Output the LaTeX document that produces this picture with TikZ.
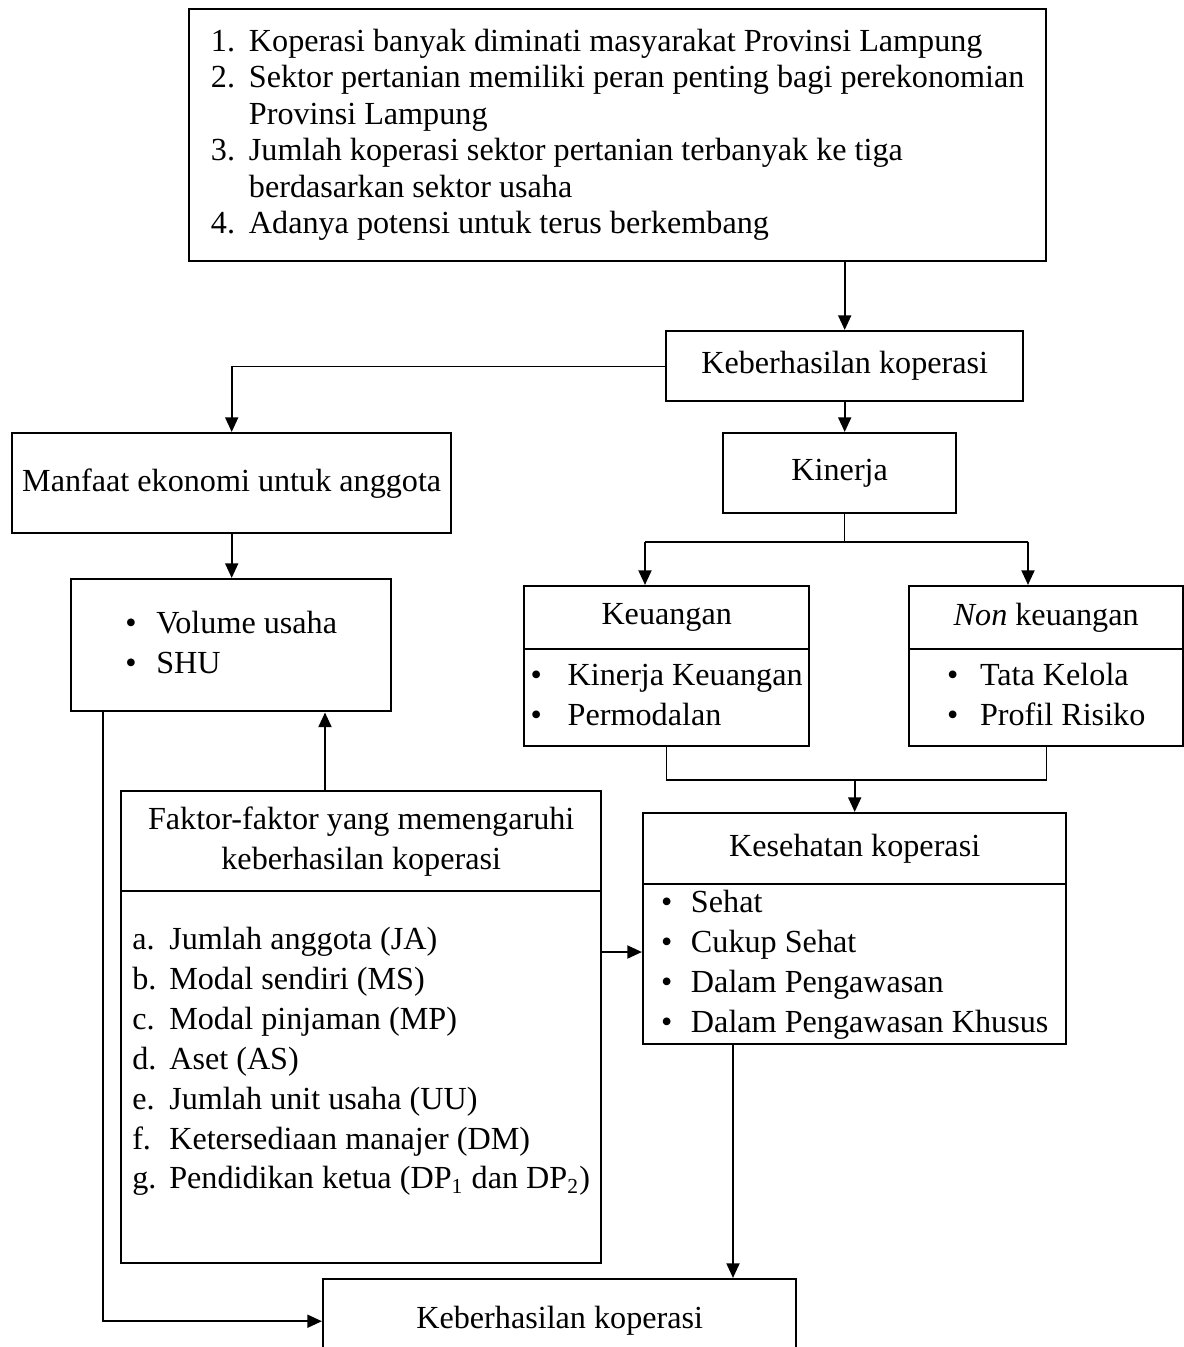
\documentclass[tikz,border=0pt]{standalone}
\usepackage{fontspec}
\setmainfont{Liberation Serif}
\usetikzlibrary{arrows.meta}
\newlength\unitpx
\setlength\unitpx{0.373pt}
\tikzset{
  box/.style={draw, line width=0.9pt, inner sep=0pt, anchor=north west,
    font=\fontsize{12}{14.9}\selectfont},
  arr/.style={line width=0.9pt, -{Triangle[length=5.5pt,width=4.8pt]}},
  thinline/.style={line width=0.45pt},
}
\begin{document}
\begin{tikzpicture}[x=\unitpx, y=-\unitpx]
\useasboundingbox (0,0) rectangle (1184,1347);
% boxes
\node[box, minimum width=857*\unitpx, minimum height=252*\unitpx, font=\fontsize{12}{13.6}\selectfont] (motiv) at (188,8){%
\begin{tabular}{@{}p{38\unitpx}@{}l@{}}
1. & Koperasi banyak diminati masyarakat Provinsi Lampung\\
2. & Sektor pertanian memiliki peran penting bagi perekonomian\\
   & Provinsi Lampung\\
3. & Jumlah koperasi sektor pertanian terbanyak ke tiga\\
   & berdasarkan sektor usaha\\
4. & Adanya potensi untuk terus berkembang
\end{tabular}};
\node[box, minimum width=357*\unitpx, minimum height=70*\unitpx] (kh) at (665,330){Keberhasilan koperasi};
\node[box, minimum width=439*\unitpx, minimum height=100*\unitpx] (manf) at (11,432){Manfaat ekonomi untuk anggota};
\node[box, minimum width=233*\unitpx, minimum height=80*\unitpx] (kin) at (722,432){Kinerja};
\node[box, minimum width=320*\unitpx, minimum height=132*\unitpx] (vol) at (70,578){%
\begin{tabular}{@{}p{31\unitpx}@{}l@{}}
\textbullet & Volume usaha\\
\textbullet & SHU
\end{tabular}};
\node[box, minimum width=285*\unitpx, minimum height=63*\unitpx] (keu) at (523,585){Keuangan};
\node[box, minimum width=285*\unitpx, minimum height=97*\unitpx] (keuitems) at (523,648){%
\begin{tabular}{@{}p{37\unitpx}@{}l@{}}
\textbullet & Kinerja Keuangan\\
\textbullet & Permodalan
\end{tabular}};
\node[box, minimum width=274*\unitpx, minimum height=63*\unitpx] (non) at (908,585){\textit{Non} keuangan};
\node[box, minimum width=274*\unitpx, minimum height=97*\unitpx] (nonitems) at (908,648){%
\begin{tabular}{@{}p{33\unitpx}@{}l@{}}
\textbullet & Tata Kelola\\
\textbullet & Profil Risiko
\end{tabular}};
\node[box, minimum width=480*\unitpx, minimum height=100*\unitpx, align=center] (fak) at (120,790){Faktor-faktor yang memengaruhi\\keberhasilan koperasi};
\node[box, minimum width=480*\unitpx, minimum height=372*\unitpx] (faklist) at (120,890){%
\begin{tabular}{@{}p{37\unitpx}@{}l@{}}
a. & Jumlah anggota (JA)\\
b. & Modal sendiri (MS)\\
c. & Modal pinjaman (MP)\\
d. & Aset (AS)\\
e. & Jumlah unit usaha (UU)\\
f. & Ketersediaan manajer (DM)\\
g. & Pendidikan ketua (DP\textsubscript{1} dan DP\textsubscript{2})\\[12pt]
\end{tabular}};
\node[box, minimum width=423*\unitpx, minimum height=71*\unitpx] (kes) at (642,812){Kesehatan koperasi};
\node[box, minimum width=423*\unitpx, minimum height=160*\unitpx] (kesitems) at (642,883){%
\begin{tabular}{@{}p{30\unitpx}@{}l@{}}
\textbullet & Sehat\\
\textbullet & Cukup Sehat\\
\textbullet & Dalam Pengawasan\\
\textbullet & Dalam Pengawasan Khusus
\end{tabular}};
\node[box, minimum width=473*\unitpx, minimum height=84*\unitpx] (bot) at (322,1278){Keberhasilan koperasi};
% junction points
\coordinate (brL) at (645,542);
\coordinate (brR) at (1028,542);
\coordinate (jn) at (853,780);
\coordinate (upf) at (325,790);
\coordinate (side) at (600,952);
\coordinate (dn) at (733,1043);
\coordinate (lft) at (103,710);
% connectors
\draw[arr] (kh.north |- motiv.south) -- (kh.north);
\draw[thinline] (kh.west) -- (kh.west -| manf.north);
\draw[arr] (kh.west -| manf.north) -- (manf.north);
\draw[arr] (kh.south) -- (kh.south |- kin.north);
\draw[thinline] (kh.south |- kin.south) -- (kh.south |- brL);
\draw[thinline] (brL) -- (brR);
\draw[arr] (brL) -- (brL |- keu.north);
\draw[arr] (brR) -- (brR |- non.north);
\draw[thinline] (keuitems.south) |- (jn) -| (nonitems.south);
\draw[arr] (kes.north |- jn) -- (kes.north);
\draw[arr] (manf.south) -- (manf.south |- vol.north);
\draw[arr] (upf) -- (upf |- vol.south);
\draw[arr] (side) -- (side -| kesitems.west);
\draw[arr] (dn) -- (dn |- bot.north);
\draw[arr] (lft) |- (bot.west);
\end{tikzpicture}
\end{document}
